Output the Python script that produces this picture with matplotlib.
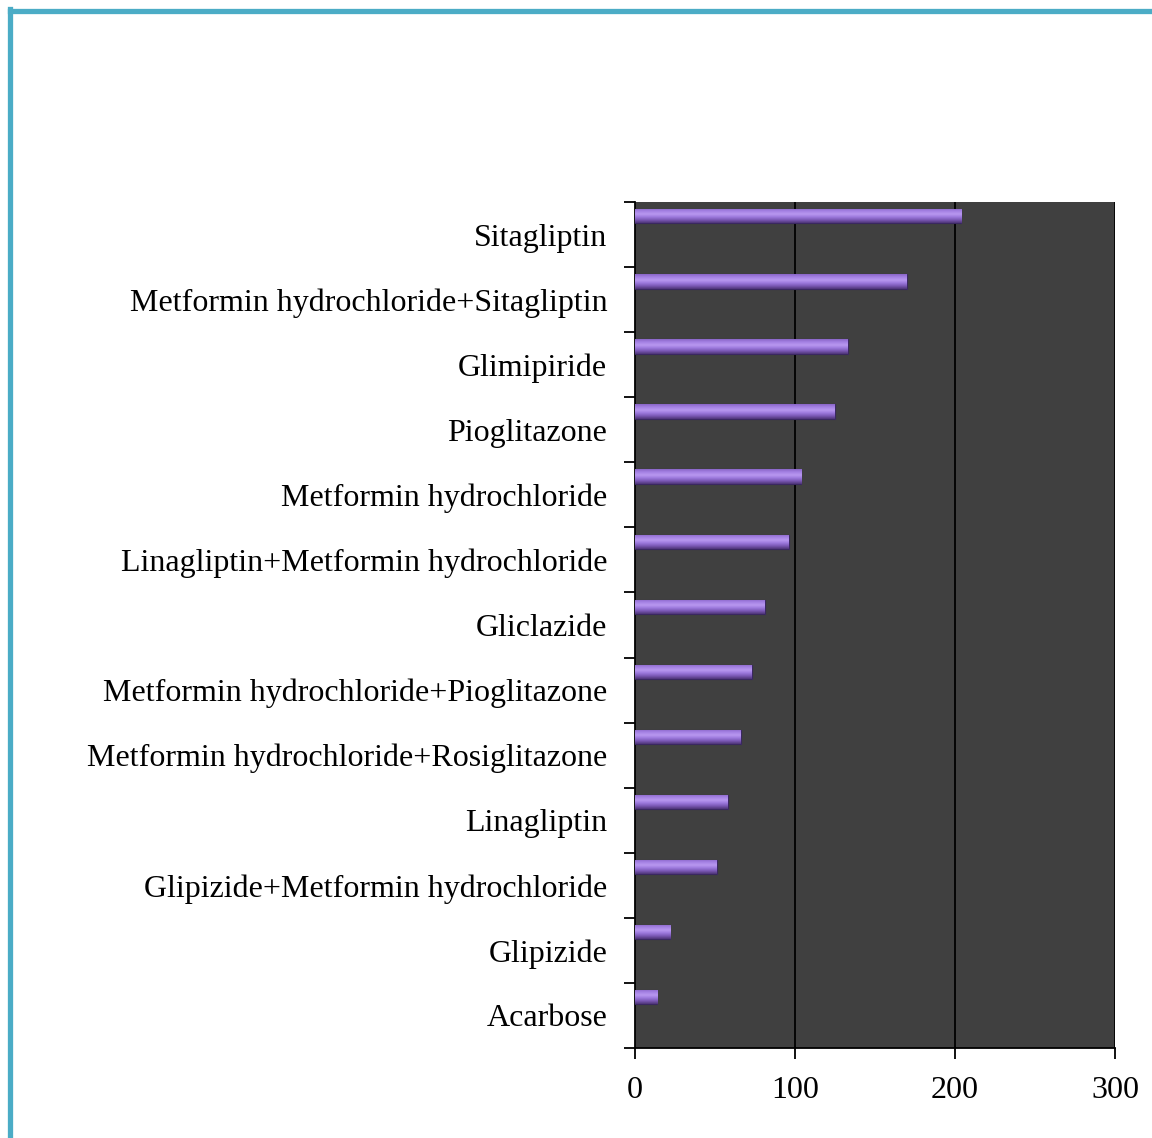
import matplotlib.pyplot as plt
from matplotlib.lines import Line2D
from matplotlib.colors import LinearSegmentedColormap
import numpy as np

plt.rcParams["font.family"] = ["Liberation Serif", "DejaVu Serif"]

# drugs, bottom to top
drugs = ["Acarbose", "Glipizide", "Glipizide+Metformin hydrochloride",
         "Linagliptin", "Metformin hydrochloride+Rosiglitazone",
         "Metformin hydrochloride+Pioglitazone", "Gliclazide",
         "Linagliptin+Metformin hydrochloride", "Metformin hydrochloride",
         "Pioglitazone", "Glimipiride",
         "Metformin hydrochloride+Sitagliptin", "Sitagliptin"]
counts = [14, 22, 51, 58, 66, 73, 81, 96, 104, 125, 133, 170, 204]
x_ticks = [0, 100, 200, 300]

fig = plt.figure(figsize=(11.52, 11.38), dpi=100)
ax = fig.add_axes([635/1152, 1 - 1048/1138, 480/1152, 846/1138])
ax.set_facecolor("#404040")

n = len(drugs)
ypos = np.arange(n)
bar_h = 0.22
bar_y = ypos + 0.28

# purple bar with vertical gradient clipped to each bar
grad = np.linspace(0, 1, 64).reshape(-1, 1)
cmap = LinearSegmentedColormap.from_list(
    "bar", ["#4e3578", "#7a58b4", "#9c78dc", "#b898f0", "#a582e4", "#8a66c8"])
bars = ax.barh(bar_y, counts, height=bar_h, color="#9070d0",
               edgecolor="#3a2860", linewidth=0.8, zorder=3)
for b in bars:
    x0, y0 = b.get_x(), b.get_y()
    w, h = b.get_width(), b.get_height()
    im = ax.imshow(grad, cmap=cmap, aspect="auto", origin="lower",
                   extent=[x0, x0 + w, y0, y0 + h], zorder=4)
    im.set_clip_path(b)

ax.set_xlim(0, 300)
ax.set_ylim(-0.5, n - 0.5)
ax.set_xticks(x_ticks)
ax.set_xticklabels([str(v) for v in x_ticks], fontsize=23)
ax.set_yticks(np.arange(-0.5, n, 1.0))
ax.set_yticklabels([])
ax.set_yticks(ypos, minor=True)
ax.set_yticklabels(drugs, minor=True, fontsize=23)
ax.tick_params(axis="y", which="major", length=8, width=1.3, direction="out")
ax.tick_params(axis="y", which="minor", length=0, pad=20)
ax.tick_params(axis="x", length=8, width=1.3, pad=12)

for v in x_ticks[1:]:
    ax.axvline(v, color="black", linewidth=1.3, zorder=2)

ax.spines["top"].set_visible(False)
ax.spines["right"].set_visible(False)
ax.spines["left"].set_linewidth(1.3)
ax.spines["bottom"].set_linewidth(1.3)

# teal frame lines
fig.add_artist(Line2D([9.5/1152, 1], [1 - 10.5/1138, 1 - 10.5/1138],
                      color="#4bacc6", linewidth=3.8, transform=fig.transFigure))
fig.add_artist(Line2D([9.5/1152, 9.5/1152], [0, 1 - 8.5/1138],
                      color="#4bacc6", linewidth=3.8, transform=fig.transFigure))

fig.savefig("out.png", dpi=100)
